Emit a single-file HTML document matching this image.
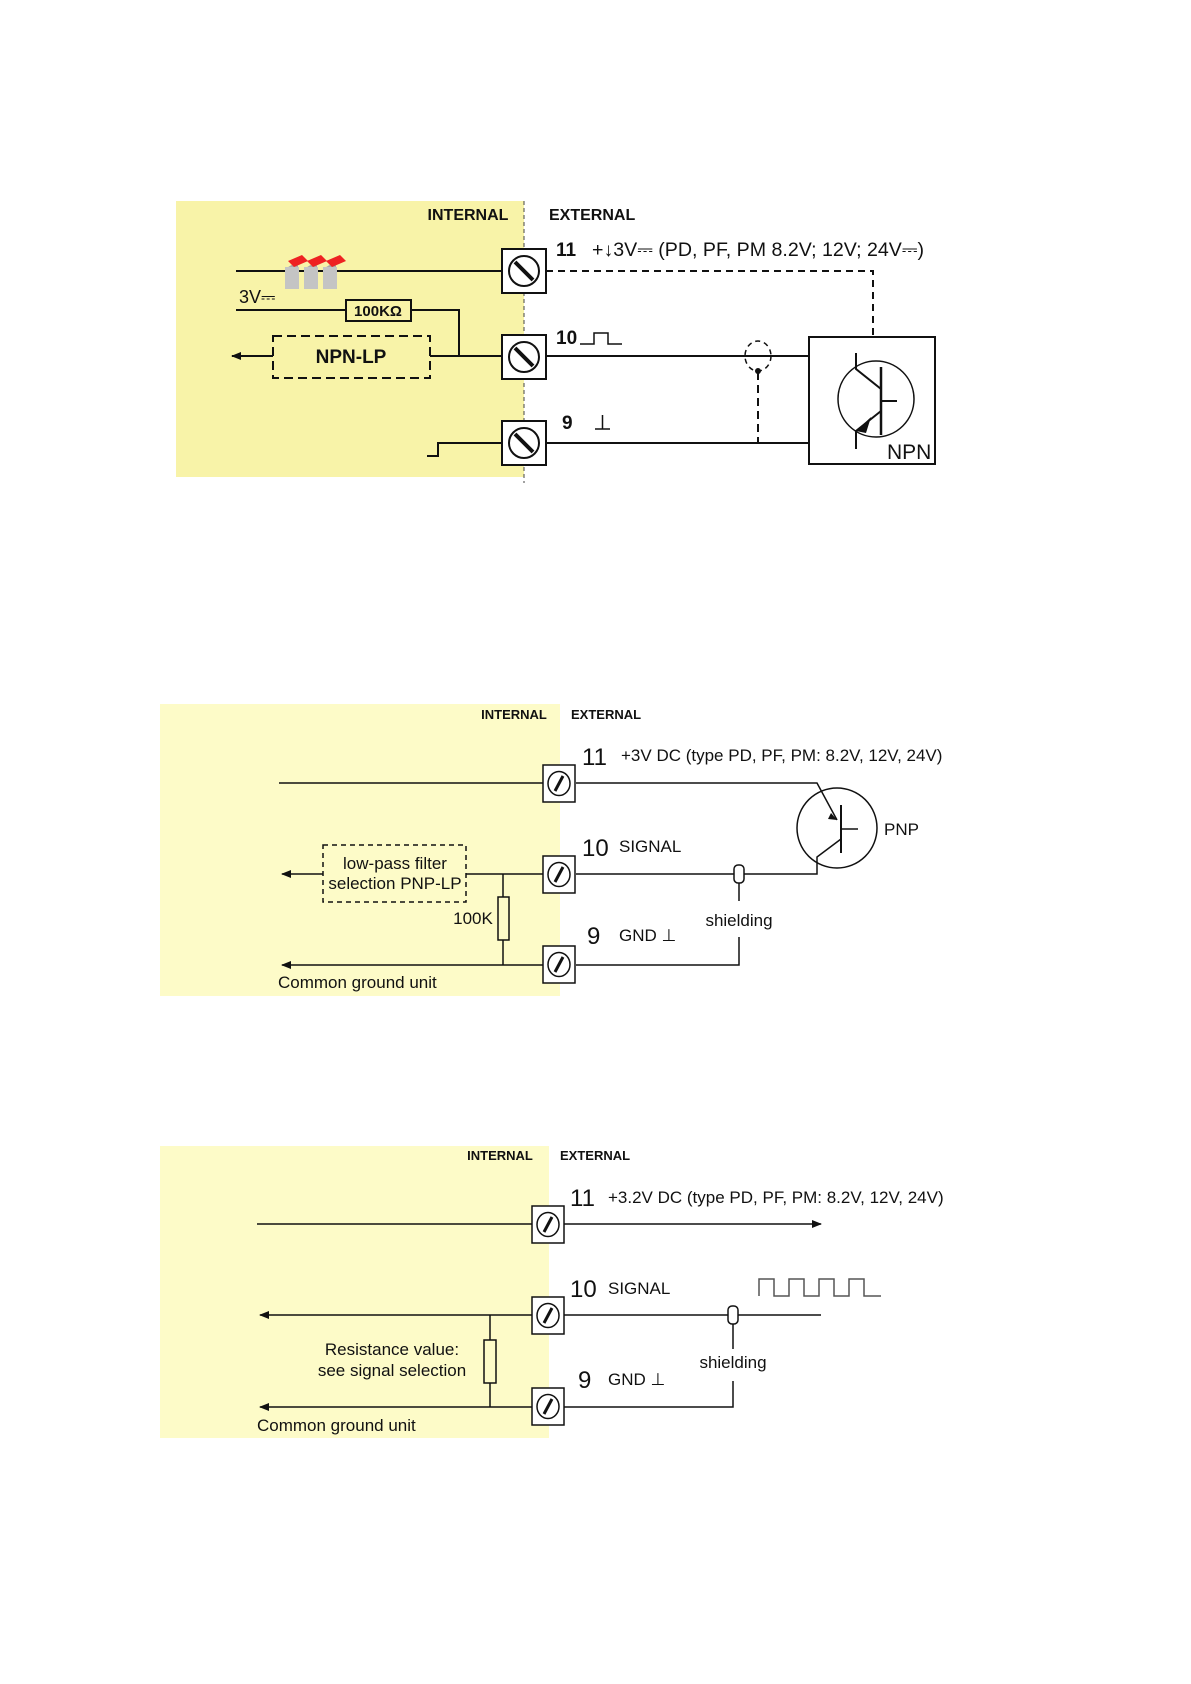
<!DOCTYPE html>
<html><head><meta charset="utf-8"><style>
html,body{margin:0;padding:0;background:#fff}
svg{display:block}
text{font-family:"Liberation Sans",Arial,sans-serif;fill:#111}
.b{font-weight:bold}
</style></head><body>
<svg width="1191" height="1684" viewBox="0 0 1191 1684" xmlns="http://www.w3.org/2000/svg">
<defs>
<marker id="ar" markerWidth="10" markerHeight="8" refX="9" refY="4" orient="auto" markerUnits="userSpaceOnUse"><path d="M0,0 L10,4 L0,8 z" fill="#111"/></marker>
<g id="term"><rect x="0" y="0" width="44" height="44" fill="#fff" stroke="#111" stroke-width="2"/><circle cx="22" cy="22" r="15" fill="#fff" stroke="#111" stroke-width="2"/><line x1="13" y1="13" x2="31" y2="31" stroke="#111" stroke-width="4"/></g>
<g id="term2"><rect x="0" y="0" width="32" height="37" fill="#fff" stroke="#111" stroke-width="1.5"/><ellipse cx="16" cy="18.5" rx="11" ry="12" fill="#fff" stroke="#111" stroke-width="1.5"/><line x1="12" y1="26" x2="20" y2="11" stroke="#111" stroke-width="3"/></g>
</defs>

<!-- Diagram 1 -->
<g transform="translate(-2,-1)">
<rect x="178" y="202" width="348" height="276" fill="#f8f3a8"/>
<line x1="526" y1="202" x2="526" y2="484" stroke="#444" stroke-width="1" stroke-dasharray="4,3"/>
<text x="470" y="221" font-size="16" class="b" text-anchor="middle">INTERNAL</text>
<text x="551" y="221" font-size="16" class="b">EXTERNAL</text>
<g stroke="#111" stroke-width="2" fill="none">
<line x1="238" y1="272" x2="504" y2="272"/>
<path d="M548,272 H875 V338" stroke-dasharray="7,5"/>
<line x1="238" y1="311" x2="348" y2="311"/>
<path d="M413,311 H461 V357"/>
<line x1="432" y1="357" x2="504" y2="357"/>
<line x1="275" y1="357" x2="234" y2="357" marker-end="url(#ar)"/>
<line x1="548" y1="357" x2="811" y2="357"/>
<path d="M429,457 H440 V444 H504"/>
<line x1="548" y1="444" x2="811" y2="444"/>
<line x1="760" y1="373" x2="760" y2="444" stroke-dasharray="8,5"/>
<ellipse cx="760" cy="357" rx="13" ry="15" stroke-dasharray="5,4" stroke-width="1.5"/>
<rect x="811" y="338" width="126" height="127"/>
<circle cx="878" cy="400" r="38" stroke-width="1.5"/>
<line x1="883" y1="368" x2="883" y2="436" stroke-width="2.5"/>
<line x1="883" y1="402" x2="899" y2="402"/>
<path d="M858,354 V370 L883,390"/>
<path d="M883,412 L858,432 V450"/>
<rect x="348" y="301" width="65" height="21" stroke-width="2"/>
<rect x="275" y="337" width="157" height="42" stroke-dasharray="9,5"/>
</g>
<path d="M858,432 L873,418 L868,434 z" fill="#111"/>
<circle cx="760" cy="372" r="3" fill="#111"/>
<use href="#term" x="504" y="250"/>
<use href="#term" x="504" y="336"/>
<use href="#term" x="504" y="422"/>
<text x="380" y="317" font-size="15" class="b" text-anchor="middle">100KΩ</text>
<text x="353" y="364" font-size="19" class="b" text-anchor="middle">NPN-LP</text>
<text x="241" y="304" font-size="18">3V⎓</text>
<text x="889" y="460" font-size="21">NPN</text>
<g>
<path d="M287,270 L300,262 L300,285 L287,290 z" fill="#aaa"/><rect x="287" y="268" width="14" height="22" fill="#c4c4c4"/><path d="M290,262 L304,256 L310,262 L296,268 z" fill="#e22"/>
<path d="M306,270 L319,262 L319,285 L306,290 z" fill="#aaa"/><rect x="306" y="268" width="14" height="22" fill="#c4c4c4"/><path d="M309,262 L323,256 L329,262 L315,268 z" fill="#e22"/>
<path d="M325,270 L338,262 L338,285 L325,290 z" fill="#aaa"/><rect x="325" y="268" width="14" height="22" fill="#c4c4c4"/><path d="M328,262 L342,256 L348,262 L334,268 z" fill="#e22"/>
</g>
<text x="558" y="257" font-size="19" class="b">11</text>
<text x="594" y="257" font-size="19" textLength="332" lengthAdjust="spacingAndGlyphs">+↓3V⎓ (PD, PF, PM 8.2V; 12V; 24V⎓)</text>
<text x="558" y="345" font-size="19" class="b">10</text>
<path d="M582,345 H596 V334 H610 V345 H624" stroke="#111" stroke-width="1.5" fill="none"/>
<text x="564" y="430" font-size="19" class="b">9</text>
<path d="M597,430 H612 M604.5,430 V416" stroke="#111" stroke-width="1.5"/>
</g>

<!-- Diagram 2 -->
<g transform="translate(-2,-3)">
<rect x="162" y="707" width="400" height="292" fill="#fdfbc8"/>
<text x="516" y="722" font-size="13" class="b" text-anchor="middle">INTERNAL</text>
<text x="573" y="722" font-size="13" class="b">EXTERNAL</text>
<g stroke="#111" stroke-width="1.5" fill="none">
<line x1="281" y1="786" x2="545" y2="786"/>
<path d="M578,786 H819 L839,823"/>
<line x1="843" y1="808" x2="843" y2="856" stroke-width="2"/>
<line x1="843" y1="832" x2="860" y2="832"/>
<path d="M843,842 L819,860 V877 H578"/>
<ellipse cx="839" cy="831" rx="40" ry="40"/>
<line x1="468" y1="877" x2="545" y2="877"/>
<line x1="325" y1="877" x2="284" y2="877" marker-end="url(#ar)"/>
<rect x="325" y="848" width="143" height="57" stroke-dasharray="5,4"/>
<line x1="505" y1="877" x2="505" y2="968"/>
<rect x="500" y="900" width="11" height="43" fill="#fdfbc8"/>
<line x1="545" y1="968" x2="284" y2="968" marker-end="url(#ar)"/>
<path d="M578,968 H741 V940"/>
<line x1="741" y1="885" x2="741" y2="904"/>
<rect x="736" y="868" width="10" height="18" rx="4" fill="#fff"/>
</g>
<path d="M833,816 L839,823 L830,822 z" fill="#111"/>
<use href="#term2" x="545" y="768"/>
<use href="#term2" x="545" y="859"/>
<use href="#term2" x="545" y="949"/>
<text x="886" y="838" font-size="17">PNP</text>
<text x="584" y="768" font-size="24">11</text>
<text x="623" y="764" font-size="17">+3V DC (type PD, PF, PM: 8.2V, 12V, 24V)</text>
<text x="584" y="859" font-size="24">10</text>
<text x="621" y="855" font-size="17">SIGNAL</text>
<text x="589" y="947" font-size="24">9</text>
<text x="621" y="944" font-size="17">GND ⊥</text>
<text x="741" y="929" font-size="17" text-anchor="middle">shielding</text>
<text x="397" y="872" font-size="17" text-anchor="middle">low-pass filter</text>
<text x="397" y="892" font-size="17" text-anchor="middle">selection PNP-LP</text>
<text x="475" y="927" font-size="17" text-anchor="middle">100K</text>
<text x="280" y="991" font-size="17">Common ground unit</text>
</g>

<!-- Diagram 3 -->
<g transform="translate(-2,-6)">
<rect x="162" y="1152" width="389" height="292" fill="#fdfbc8"/>
<text x="502" y="1166" font-size="13" class="b" text-anchor="middle">INTERNAL</text>
<text x="562" y="1166" font-size="13" class="b">EXTERNAL</text>
<g stroke="#111" stroke-width="1.5" fill="none">
<line x1="259" y1="1230" x2="534" y2="1230"/>
<line x1="566" y1="1230" x2="823" y2="1230" marker-end="url(#ar)"/>
<line x1="534" y1="1321" x2="262" y2="1321" marker-end="url(#ar)"/>
<line x1="566" y1="1321" x2="823" y2="1321"/>
<line x1="492" y1="1321" x2="492" y2="1413"/>
<rect x="486" y="1346" width="12" height="43" fill="#fdfbc8"/>
<line x1="534" y1="1413" x2="262" y2="1413" marker-end="url(#ar)"/>
<path d="M566,1413 H735 V1387"/>
<line x1="735" y1="1330" x2="735" y2="1355"/>
<rect x="730" y="1312" width="10" height="18" rx="4" fill="#fff"/>
<path d="M761,1302 V1285 H776 V1302 H791 V1285 H806 V1302 H821 V1285 H836 V1302 H851 V1285 H866 V1302 H883" stroke="#555"/>
</g>
<use href="#term2" x="534" y="1212"/>
<use href="#term2" x="534" y="1303"/>
<use href="#term2" x="534" y="1394"/>
<text x="572" y="1212" font-size="24">11</text>
<text x="610" y="1209" font-size="17">+3.2V DC (type PD, PF, PM: 8.2V, 12V, 24V)</text>
<text x="572" y="1303" font-size="24">10</text>
<text x="610" y="1300" font-size="17">SIGNAL</text>
<text x="580" y="1394" font-size="24">9</text>
<text x="610" y="1391" font-size="17">GND ⊥</text>
<text x="735" y="1374" font-size="17" text-anchor="middle">shielding</text>
<text x="394" y="1361" font-size="17" text-anchor="middle">Resistance value:</text>
<text x="394" y="1382" font-size="17" text-anchor="middle">see signal selection</text>
<text x="259" y="1437" font-size="17">Common ground unit</text>
</g>
</svg>
</body></html>
